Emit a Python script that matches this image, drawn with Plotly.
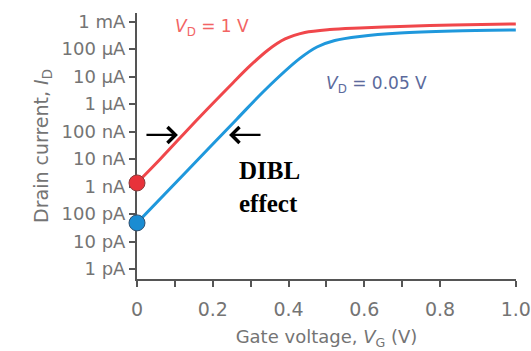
import plotly.graph_objects as go

# Gate voltage (V) and drain current (A)
vg_hi = [0.0, 0.061, 0.158, 0.253, 0.298, 0.346, 0.391, 0.443, 0.509, 0.588, 0.694, 0.834, 1.0]
id_hi = [1.36e-9, 9.9e-9, 2.66e-7, 5.9e-6, 2.45e-5, 9.35e-5, 2.35e-4, 4.05e-4, 5.2e-4, 5.9e-4, 6.68e-4, 7.59e-4, 8.24e-4]

vg_lo = [0.0, 0.132, 0.264, 0.338, 0.430, 0.475, 0.522, 0.588, 0.694, 0.834, 1.0]
id_lo = [4.8e-11, 3.72e-9, 2.9e-7, 3.28e-6, 4.6e-5, 1.2e-4, 2.07e-4, 2.9e-4, 3.88e-4, 4.59e-4, 4.99e-4]

y_tickvals = [1e-3, 1e-4, 1e-5, 1e-6, 1e-7, 1e-8, 1e-9, 1e-10, 1e-11, 1e-12]
y_ticktext = ["1 mA", "100 µA", "10 µA", "1 µA", "100 nA", "10 nA", "1 nA", "100 pA", "10 pA", "1 pA"]
x_tickvals = [0, 0.2, 0.4, 0.6, 0.8, 1.0]
x_ticktext = ["0", "0.2", "0.4", "0.6", "0.8", "1.0"]
x_minor_ticks = [0.1, 0.3, 0.5, 0.7]

RED = "#f0474b"
BLUE = "#1f98dc"
GRAY = "#747474"
AX = "#555555"

fig = go.Figure()
fig.add_trace(go.Scatter(x=vg_hi, y=id_hi, mode="lines",
                         line=dict(color=RED, width=3, shape="spline", smoothing=0.9),
                         showlegend=False, hoverinfo="skip"))
fig.add_trace(go.Scatter(x=vg_lo, y=id_lo, mode="lines",
                         line=dict(color=BLUE, width=3, shape="spline", smoothing=0.9),
                         showlegend=False, hoverinfo="skip"))
fig.add_trace(go.Scatter(x=[vg_hi[0]], y=[id_hi[0]], mode="markers", cliponaxis=False,
                         marker=dict(size=16, color="#e8323a", line=dict(color="#8a3a3a", width=1)),
                         showlegend=False, hoverinfo="skip"))
fig.add_trace(go.Scatter(x=[vg_lo[0]], y=[id_lo[0]], mode="markers", cliponaxis=False,
                         marker=dict(size=16, color="#1a8cd2", line=dict(color="#2f4f6f", width=1)),
                         showlegend=False, hoverinfo="skip"))

fig.update_layout(
    width=531, height=351,
    margin=dict(l=137, r=15, t=13, b=72),
    paper_bgcolor="white", plot_bgcolor="white",
    font=dict(family="DejaVu Sans", color=GRAY),
    xaxis=dict(range=[0, 1.0005], showline=True, linecolor=AX, linewidth=2,
               ticks="outside", ticklen=6, tickwidth=2, tickcolor=AX,
               tickvals=x_tickvals, ticktext=x_ticktext,
               minor=dict(tickvals=x_minor_ticks, ticks="outside", ticklen=6,
                          tickwidth=2, tickcolor=AX, showgrid=False),
               tickfont=dict(size=19, color=GRAY), ticklabelstandoff=6,
               ticklabeloverflow="allow", automargin=False,
               showgrid=False, zeroline=False, layer="below traces",
               title=dict(text="Gate voltage, <i>V</i><sub>G</sub> (V)",
                          font=dict(size=18, color=GRAY), standoff=12)),
    yaxis=dict(type="log", range=[-12.36, -2.685], showline=True, linecolor=AX, linewidth=2,
               ticks="outside", ticklen=6, tickwidth=2, tickcolor=AX,
               tickvals=y_tickvals, ticktext=y_ticktext,
               tickfont=dict(size=18, color=GRAY), automargin=False,
               showgrid=False, zeroline=False, layer="below traces",
               title=dict(text="Drain current, <i>I</i><sub>D</sub>",
                          font=dict(size=19, color=GRAY), standoff=8)),
)

arrow_y = -7.12
fig.add_annotation(x=0.108, y=arrow_y, ax=0.021, ay=arrow_y, xref="x", yref="y",
                   axref="x", ayref="y", text="", showarrow=True, arrowhead=4,
                   arrowsize=1.4, arrowwidth=2.2, arrowcolor="black")
fig.add_annotation(x=0.243, y=arrow_y, ax=0.330, ay=arrow_y, xref="x", yref="y",
                   axref="x", ayref="y", text="", showarrow=True, arrowhead=4,
                   arrowsize=1.4, arrowwidth=2.2, arrowcolor="black")
fig.add_annotation(x=0.351, y=-9.03, xref="x", yref="y", showarrow=False,
                   text="<b>DIBL</b><br><b>effect</b>", align="left",
                   font=dict(family="Liberation Serif", size=25, color="black"))
fig.add_annotation(x=0.199, y=-3.23, xref="x", yref="y", showarrow=False,
                   text="<i>V</i><sub>D</sub> = 1 V",
                   font=dict(size=17, color="#f26464"))
fig.add_annotation(x=0.631, y=-5.30, xref="x", yref="y", showarrow=False,
                   text="<i>V</i><sub>D</sub> = 0.05 V",
                   font=dict(size=17, color="#5b6a9c"))

fig.write_html("out.html")
